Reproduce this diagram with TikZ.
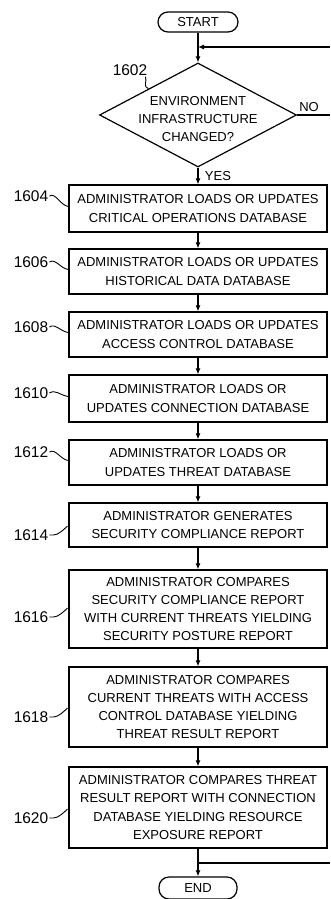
\documentclass[tikz,border=0pt]{standalone}
\usepackage{fontspec}
\setmainfont{Liberation Sans}
\usetikzlibrary{shapes.geometric,arrows.meta,calc}
\begin{document}
\begin{tikzpicture}[x=1pt,y=-1pt,
  every node/.style={font=\fontsize{13}{18.3}\selectfont},
  stepbox/.style={draw, line width=1.3pt, minimum width=258pt, inner sep=0pt, align=center},
  term/.style={draw, line width=1.2pt, rounded corners=10pt, minimum width=80pt, minimum height=20pt, inner sep=0pt},
  decision/.style={draw, diamond, line width=1.2pt, minimum width=197pt, minimum height=104pt, inner sep=0pt},
  conn/.style={line width=1.1pt},
  arr/.style={conn, -{Latex[length=6pt,width=5pt]}},
  reflabel/.style={font=\fontsize{15.5}{18}\selectfont, inner sep=0pt},
  lead/.style={line width=0.9pt},
]
\useasboundingbox (0,0) rectangle (330,899);

% terminals and decision
\node[term] (start) at (198,22) {START};
\node[decision] (dia) at (198,115) {};
\node[align=center, inner sep=0pt] (diatext) at (198,119) {ENVIRONMENT\\INFRASTRUCTURE\\CHANGED?};

% process boxes
\node[stepbox, minimum height=47pt] (b1604) at (198,208.5) {ADMINISTRATOR LOADS OR UPDATES\\CRITICAL OPERATIONS DATABASE};
\node[stepbox, minimum height=45pt] (b1606) at (198,271.5) {ADMINISTRATOR LOADS OR UPDATES\\HISTORICAL DATA DATABASE};
\node[stepbox, minimum height=45pt] (b1608) at (198,334.5) {ADMINISTRATOR LOADS OR UPDATES\\ACCESS CONTROL DATABASE};
\node[stepbox, minimum height=47pt] (b1610) at (198,398.5) {ADMINISTRATOR LOADS OR\\UPDATES CONNECTION DATABASE};
\node[stepbox, minimum height=45pt] (b1612) at (198,462.5) {ADMINISTRATOR LOADS OR\\UPDATES THREAT DATABASE};
\node[stepbox, minimum height=44pt] (b1614) at (198,525) {ADMINISTRATOR GENERATES\\SECURITY COMPLIANCE REPORT};
\node[stepbox, minimum height=78pt] (b1616) at (198,609) {ADMINISTRATOR COMPARES\\SECURITY COMPLIANCE REPORT\\WITH CURRENT THREATS YIELDING\\SECURITY POSTURE REPORT};
\node[stepbox, minimum height=80pt] (b1618) at (198,707) {ADMINISTRATOR COMPARES\\CURRENT THREATS WITH ACCESS\\CONTROL DATABASE YIELDING\\THREAT RESULT REPORT};
\node[stepbox, minimum height=81pt] (b1620) at (198,807.5) {ADMINISTRATOR COMPARES THREAT\\RESULT REPORT WITH CONNECTION\\DATABASE YIELDING RESOURCE\\EXPOSURE REPORT};
\node[term, minimum width=78pt, minimum height=22pt] (end) at (198,888) {END};

% branch labels
\node[inner sep=0pt] (nolab) at (309,107) {NO};
\node[inner sep=0pt] (yeslab) at (218,176) {YES};

% connectors
\coordinate (fbR) at (330,47);
\coordinate (mTop) at (198,47);
\coordinate (noR) at (330,115);
\coordinate (endJ) at (198,863);
\coordinate (endR) at (330,863);

\draw[conn] (start) -- (mTop);
\draw[arr] (fbR) -- (mTop);
\draw[arr] (mTop) -- (dia.north);
\draw[conn] (dia.east) -- (noR);
\draw[arr] (dia.south) -- (b1604.north);
\draw[arr] (b1604) -- (b1606);
\draw[arr] (b1606) -- (b1608);
\draw[arr] (b1608) -- (b1610);
\draw[arr] (b1610) -- (b1612);
\draw[arr] (b1612) -- (b1614);
\draw[arr] (b1614) -- (b1616);
\draw[arr] (b1616) -- (b1618);
\draw[arr] (b1618) -- (b1620);
\draw[arr] (b1620) -- (end);
\draw[conn] (endJ) -- (endR);

% reference numerals
\node[reflabel] (l1602) at (130,70) {1602};
\node[reflabel] (l1604) at (31,196) {1604};
\node[reflabel] (l1606) at (31,262) {1606};
\node[reflabel] (l1608) at (31,327) {1608};
\node[reflabel] (l1610) at (31,393) {1610};
\node[reflabel] (l1612) at (31,452) {1612};
\node[reflabel] (l1614) at (31,535) {1614};
\node[reflabel] (l1616) at (31,617) {1616};
\node[reflabel] (l1618) at (31,717) {1618};
\node[reflabel] (l1620) at (31,818) {1620};

% leaders
\draw[lead] ($(l1602.south east)+(-2,1)$) .. controls +(2,4) and +(-6,-2) .. ($(dia.west)!0.5!(dia.north)$);
\foreach \n/\dy in {1604/-2,1606/-2,1608/-2,1610/-2,1612/-2}{
  \draw[lead] ($(l\n.east)+(1,0)$) .. controls +(6,-4) and +(-8,-1) .. ($(b\n.west)+(0,\dy)$);
}
\foreach \n in {1614,1616,1618,1620}{
  \draw[lead] ($(l\n.east)+(1,0)$) -- +(4,0) .. controls +(5,0) and +(-3,3) .. ($(l\n.east)+(19,-9)$);
}
\end{tikzpicture}
\end{document}
